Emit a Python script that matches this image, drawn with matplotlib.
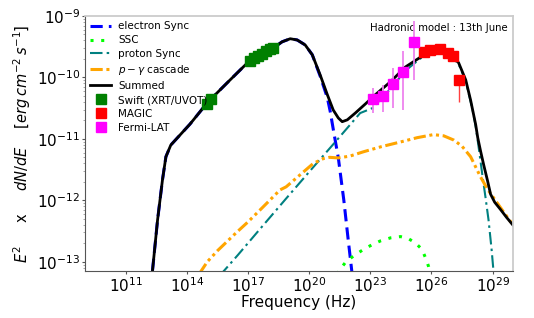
import numpy as np
import matplotlib
matplotlib.use('Agg')
import matplotlib.pyplot as plt
from matplotlib.ticker import NullFormatter

# all values are log10(frequency / Hz) and log10(flux / erg cm^-2 s^-1)
summed_x = [12.31, 12.56, 12.80, 12.97, 13.21, 14.15, 15.03, 16.12, 17.10, 17.69, 18.33, 18.67,
            19.07, 19.41, 19.80, 20.15, 20.54, 20.89, 21.18, 21.43, 21.62, 21.87, 22.26, 22.76,
            23.25, 23.99, 24.72, 25.46, 25.95, 26.45, 26.94, 27.33, 27.68, 27.92, 28.17, 28.27,
            28.41, 28.56, 28.75, 28.90, 29.10, 29.39, 29.69, 29.99]
summed_y = [-13.15, -12.32, -11.67, -11.29, -11.10, -10.76, -10.40, -10.04, -9.72, -9.60, -9.50, -9.42,
            -9.37, -9.39, -9.47, -9.63, -9.96, -10.28, -10.53, -10.66, -10.72, -10.69, -10.58, -10.43,
            -10.28, -10.07, -9.83, -9.67, -9.59, -9.55, -9.63, -9.76, -10.04, -10.37, -10.77, -10.98,
            -11.20, -11.42, -11.68, -11.90, -12.03, -12.15, -12.28, -12.40]

esync_x = [12.31, 12.56, 12.80, 12.97, 13.21, 14.15, 15.03, 16.12, 17.10, 17.69, 18.33, 18.67,
           19.07, 19.41, 19.80, 20.15, 20.54, 20.89, 21.03, 21.20, 21.43, 21.70, 21.90, 22.10, 22.25]
esync_y = [-13.15, -12.32, -11.67, -11.29, -11.10, -10.76, -10.40, -10.04, -9.72, -9.60, -9.50, -9.42,
           -9.37, -9.39, -9.47, -9.63, -9.98, -10.33, -10.55, -10.88, -11.31, -12.00, -12.60, -13.18, -13.60]

ssc_x = [21.35, 21.80, 22.20, 22.66, 23.10, 23.50, 24.00, 24.48, 24.85, 25.20, 25.45, 25.60, 25.75, 25.86, 25.95]
ssc_y = [-13.20, -13.00, -12.90, -12.80, -12.72, -12.66, -12.61, -12.59, -12.62, -12.69, -12.77, -12.85,
         -12.97, -13.08, -13.20]

psync_x = [15.60, 16.50, 17.50, 18.87, 20.20, 21.28, 22.50, 23.10, 24.00, 24.72, 25.46, 25.95, 26.45,
           26.94, 27.33, 27.68, 27.92, 28.02, 28.17, 28.30, 28.51, 28.65, 28.80, 28.95, 29.05, 29.12]
psync_y = [-13.23, -12.89, -12.50, -11.97, -11.46, -11.05, -10.58, -10.50, -10.18, -9.89, -9.69, -9.61,
           -9.57, -9.65, -9.78, -10.06, -10.39, -10.53, -10.80, -11.10, -11.62, -11.95, -12.32, -12.80,
           -13.18, -13.50]

casc_x = [14.60, 15.00, 15.50, 16.41, 17.00, 17.70, 18.57, 18.87, 19.50, 20.20, 20.70, 21.00, 21.43,
          22.00, 22.66, 23.50, 24.48, 25.30, 26.10, 26.60, 27.10, 27.50, 27.92, 28.41, 28.75, 29.05,
          29.54, 30.00]
casc_y = [-13.20, -13.00, -12.82, -12.53, -12.35, -12.12, -11.83, -11.78, -11.60, -11.40, -11.32, -11.30,
          -11.31, -11.28, -11.21, -11.13, -11.05, -10.98, -10.93, -10.95, -11.02, -11.12, -11.29, -11.62,
          -11.82, -11.96, -12.19, -12.40]

swift_x = [14.98, 15.18, 17.10, 17.30, 17.49, 17.69, 17.89, 18.08, 18.23]
swift_y = [-10.43, -10.35, -9.73, -9.68, -9.65, -9.62, -9.57, -9.54, -9.52]

magic_x = [25.61, 25.95, 26.40, 26.79, 27.08, 27.33]
magic_y = [-9.59, -9.55, -9.54, -9.60, -9.65, -10.04]
magic_lo = [-9.63, -9.59, -9.58, -9.64, -9.70, -10.40]
magic_hi = [-9.55, -9.51, -9.50, -9.56, -9.60, -9.98]

fermi_x = [23.15, 23.64, 24.13, 24.62, 25.12]
fermi_y = [-10.35, -10.30, -10.11, -9.91, -9.42]
fermi_lo = [-10.58, -10.56, -10.50, -10.53, -10.04]
fermi_hi = [-10.17, -10.12, -9.85, -9.57, -9.08]

x_ticks = [1e11, 1e14, 1e17, 1e20, 1e23, 1e26, 1e29]
y_ticks = [1e-13, 1e-12, 1e-11, 1e-10, 1e-9]


def lin(a):
    return 10.0 ** np.asarray(a)


fig = plt.figure(figsize=(5.34, 3.18), dpi=100)
ax = fig.add_axes([85 / 534, 47 / 318, 428 / 534, 255 / 318])

ax.plot(lin(esync_x), lin(esync_y), color='blue', ls=(0, (4, 2)), lw=2.2, label='electron Sync')
ax.plot(lin(ssc_x), lin(ssc_y), color='lime', ls=(0, (1, 2.5)), lw=2.2, label='SSC')
ax.plot(lin(psync_x), lin(psync_y), color='teal', ls=(0, (6, 2, 1.2, 2)), lw=1.5, label='proton Sync')
ax.plot(lin(casc_x), lin(casc_y), color='orange', ls=(0, (4, 1.2, 1, 1.2, 1, 1.2)), lw=2.2,
        label=r'$p-\gamma$ cascade')
ax.plot(lin(summed_x), lin(summed_y), color='black', lw=2.0, label='Summed')

fx, fy = lin(fermi_x), lin(fermi_y)
ax.errorbar(fx, fy, yerr=[fy - lin(fermi_lo), lin(fermi_hi) - fy], fmt='none', ecolor='violet', elinewidth=1.3, zorder=4)
mx, my = lin(magic_x), lin(magic_y)
ax.errorbar(mx, my, yerr=[my - lin(magic_lo), lin(magic_hi) - my], fmt='none', ecolor='#ff4040', elinewidth=1.0, zorder=4)

ax.plot(lin(swift_x), lin(swift_y), 's', color='green', ms=7, ls='none', label='Swift (XRT/UVOT)', zorder=5)
ax.plot(mx, my, 's', color='red', ms=7, ls='none', label='MAGIC', zorder=5)
ax.plot(fx, fy, 's', color='magenta', ms=7, ls='none', label='Fermi-LAT', zorder=5)

ax.set_xscale('log')
ax.set_yscale('log')
ax.set_xlim(1e9, 1e30)
ax.set_ylim(10 ** -13.15, 1e-9)
ax.set_xticks(x_ticks)
ax.set_yticks(y_ticks)
ax.xaxis.set_minor_formatter(NullFormatter())
ax.yaxis.set_minor_formatter(NullFormatter())
ax.tick_params(labelsize=11, direction='out', length=2.5, pad=1, color='#555555')
ax.tick_params(which='minor', length=1.5, color='#999999')

for s in ['left', 'bottom']:
    ax.spines[s].set_color('#555555')
for s in ['top', 'right']:
    ax.spines[s].set_color('#cccccc')
    ax.spines[s].set_linewidth(1.3)

ax.set_xlabel('Frequency (Hz)', fontsize=11, labelpad=0)
ax.set_ylabel(r'$E^2$     x     $dN/dE$    $[erg\,cm^{-2}\,s^{-1}]$', fontsize=10.5, labelpad=3)

ax.text(0.988, 0.953, 'Hadronic model : 13th June', transform=ax.transAxes, ha='right', va='center', fontsize=7.3)

ax.legend(loc='upper left', frameon=False, fontsize=7.5, numpoints=1, borderaxespad=0.1,
          labelspacing=0.38, handletextpad=0.7, handlelength=2.0)

fig.savefig('out.png', dpi=100)
